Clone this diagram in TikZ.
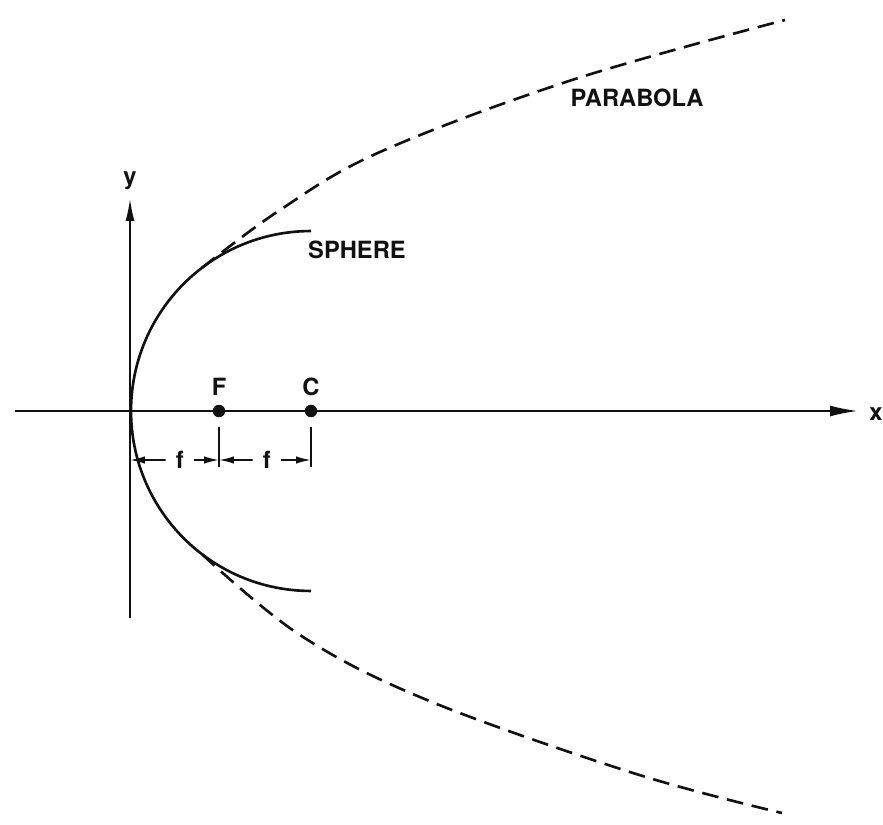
\documentclass[tikz,border=0pt]{standalone}
\usepackage{fontspec}
\setmainfont{TeX Gyre Heros}
\usepackage{tikz}
\usetikzlibrary{positioning, arrows.meta, calc}
\definecolor{Ink}{HTML}{111111}

\begin{document}
\begin{tikzpicture}[
    x=0.02cm, y=0.02cm,
    axis/.style={draw=Ink, line width=1.2pt},
    sphere/.style={draw=Ink, line width=1.5pt},
    parab/.style={draw=Ink, line width=1.5pt, dash pattern=on 9.5pt off 5pt},
    pt/.style={circle, fill=Ink, inner sep=0pt, minimum size=0.25cm},
    dim/.style={draw=Ink, line width=1pt},
    dimarr/.style={dim, -{Latex[length=3mm, width=1.5mm]}},
    every node/.style={font=\fontsize{13.5}{15}\selectfont\bfseries, text=Ink}
]
\useasboundingbox (-130,-414) rectangle (753,411);

% Axes
\coordinate (O) at (0,0);
\coordinate (xs) at (-115,0);
\coordinate (xe) at (728,0);
\coordinate (ys) at (0,-207);
\coordinate (ye) at (0,213);
\draw[axis, -{Latex[length=0.56cm, width=0.22cm]}] (xs) -- (xe);
\draw[axis, -{Latex[length=0.46cm, width=0.18cm]}] (ys) -- (ye);
\node (xlab) at (746,-3) {x};
\node (ylab) at (0,230) {y};

% Focus and centre
\node[pt] (F) at (89,0) {};
\node[pt] (C) at (181,0) {};
\node[above=0.05cm of F] (Flab) {F};
\node[above=0.05cm of C] (Clab) {C};

% Sphere
\draw[sphere] ($(C)+(90:3.6cm)$) arc[start angle=90, end angle=270, radius=3.6cm];
\node (sph) at (227,161) {SPHERE};

% Parabola
\coordinate (tanU) at ($(C)+(127.4:3.6cm)$);
\coordinate (tanD) at ($(C)+(232.8:3.6cm)$);
\draw[parab] plot[smooth, tension=0.6] coordinates {(tanU) (150,201) (250,259) (442,331) (655,391)};
\draw[parab] plot[smooth, tension=0.6] coordinates {(tanD) (170,-224) (297,-289) (503,-362) (652,-402)};
\node (par) at (507,313) {PARABOLA};

% Dimensions
\coordinate (dO) at (0,-49);
\coordinate (dF) at (89,-49);
\coordinate (dC) at (181,-49);
\draw[dim] ($(F)+(0,-16)$) -- ($(F)+(0,-56)$);
\draw[dim] ($(C)+(0,-16)$) -- ($(C)+(0,-56)$);
\node[inner sep=0.2cm] (f1) at ($(dO)!0.56!(dF)$) {f};
\node[inner sep=0.2cm] (f2) at ($(dF)!0.52!(dC)$) {f};
\draw[dimarr] (f1) -- (dO);
\draw[dimarr] (f1) -- (dF);
\draw[dimarr] (f2) -- (dF);
\draw[dimarr] (f2) -- (dC);

\end{tikzpicture}
\end{document}
